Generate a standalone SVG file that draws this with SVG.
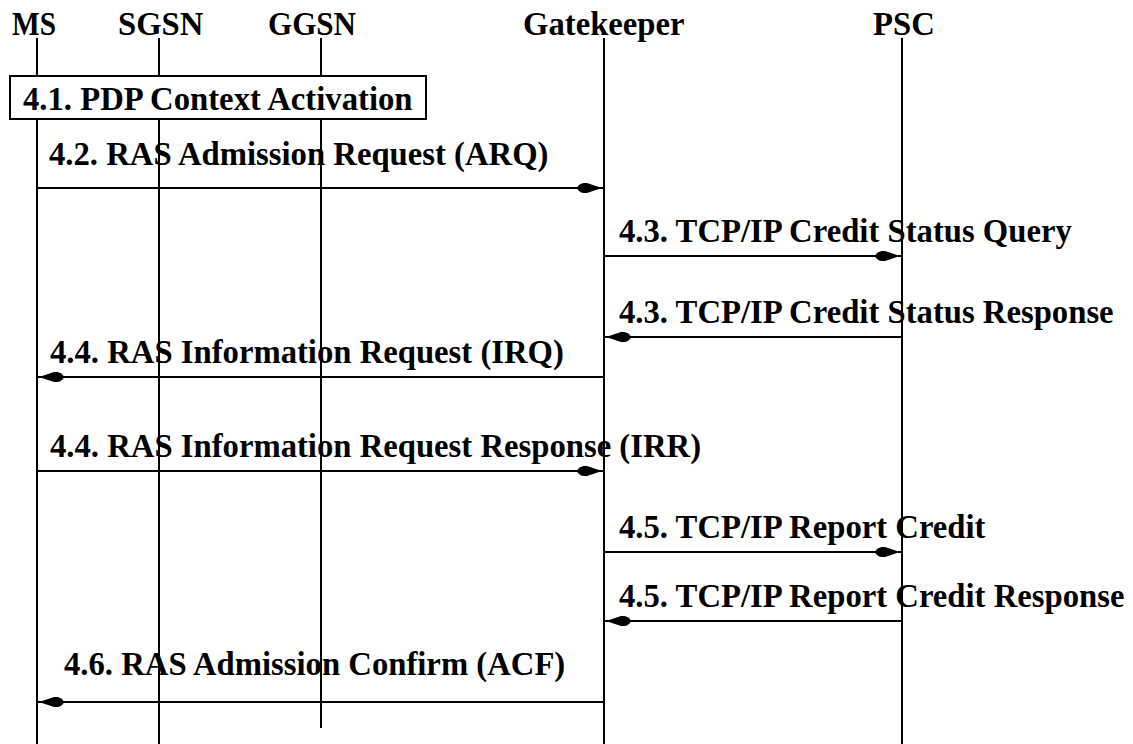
<svg xmlns="http://www.w3.org/2000/svg" width="1133" height="744" viewBox="0 0 1133 744">
<style>
text { font-family: "Liberation Serif", "Times New Roman", serif; font-weight: bold; font-size: 32.7px; fill: #000; }
.life { stroke: #000; stroke-width: 2; fill: none; }
.msg { stroke: #000; stroke-width: 2; fill: none; marker-end: url(#head); }
.box { stroke: #000; stroke-width: 2; fill: #fff; }
</style>
<defs>
<marker id="head" markerUnits="userSpaceOnUse" viewBox="0 0 28 12" markerWidth="28" markerHeight="12" refX="27" refY="6" orient="auto" overflow="visible">
<path d="M25,6 L10,1 C4,0.4 1,3 0,6 C1,9 4,11.6 10,11 Z" fill="#000"/>
</marker>
</defs>
<rect width="1133" height="744" fill="#fff"/>
<g id="node-ms">
<text x="12" y="35" textLength="44" lengthAdjust="spacingAndGlyphs">MS</text>
<line class="life" x1="37" y1="38" x2="37" y2="744"/>
</g>
<g id="node-sgsn">
<text x="118" y="35">SGSN</text>
<line class="life" x1="159" y1="38" x2="159" y2="744"/>
</g>
<g id="node-ggsn">
<text x="268" y="35" textLength="88" lengthAdjust="spacingAndGlyphs">GGSN</text>
<line class="life" x1="321" y1="38" x2="321" y2="728"/>
</g>
<g id="node-gatekeeper">
<text x="523" y="35">Gatekeeper</text>
<line class="life" x1="604" y1="38" x2="604" y2="744"/>
</g>
<g id="node-psc">
<text x="873" y="35">PSC</text>
<line class="life" x1="902" y1="38" x2="902" y2="744"/>
</g>
<g id="node-pdp-activation">
<rect class="box" x="10" y="76" width="416" height="43"/>
<text x="23" y="110">4.1. PDP Context Activation</text>
</g>
<g id="connectors">
<line class="msg" x1="37" y1="188" x2="604" y2="188"/>
<text x="49" y="165">4.2. RAS Admission Request (ARQ)</text>
<line class="msg" x1="604" y1="256" x2="902" y2="256"/>
<text x="619" y="242">4.3. TCP/IP Credit Status Query</text>
<line class="msg" x1="902" y1="337" x2="604" y2="337"/>
<text x="619" y="323">4.3. TCP/IP Credit Status Response</text>
<line class="msg" x1="604" y1="377" x2="37" y2="377"/>
<text x="50" y="363">4.4. RAS Information Request (IRQ)</text>
<line class="msg" x1="37" y1="471" x2="604" y2="471"/>
<text x="50" y="457">4.4. RAS Information Request Response (IRR)</text>
<line class="msg" x1="604" y1="552" x2="902" y2="552"/>
<text x="619" y="538">4.5. TCP/IP Report Credit</text>
<line class="msg" x1="902" y1="621" x2="604" y2="621"/>
<text x="619" y="607">4.5. TCP/IP Report Credit Response</text>
<line class="msg" x1="604" y1="702" x2="37" y2="702"/>
<text x="64" y="675">4.6. RAS Admission Confirm (ACF)</text>
</g>
</svg>
